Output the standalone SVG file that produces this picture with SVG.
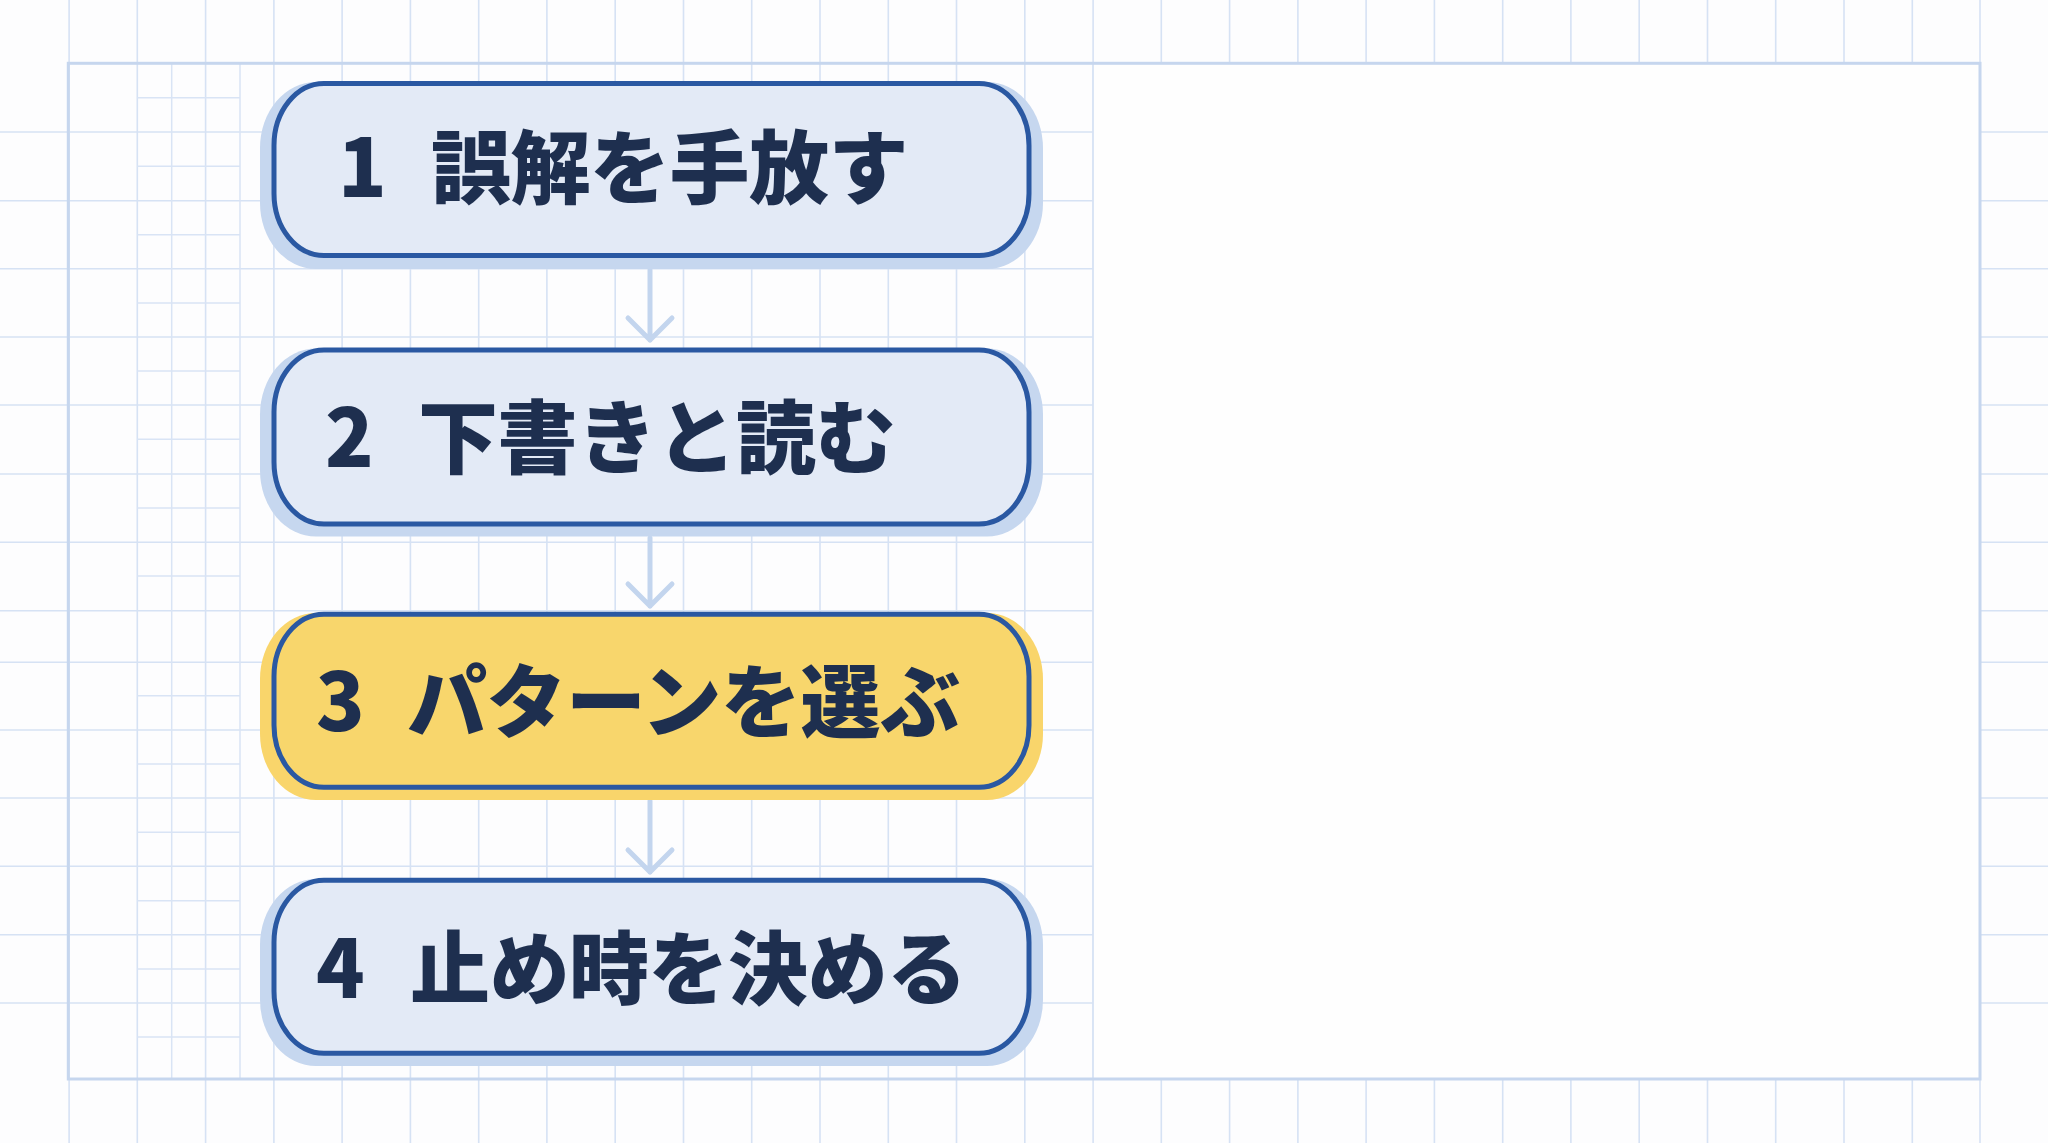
<svg xmlns="http://www.w3.org/2000/svg" width="2048" height="1143" viewBox="0 0 2048 1143">
<defs>
<style>
.g{stroke:#d6e2f4;stroke-width:1.6;fill:none}
.gf{stroke:#d9e4f5;stroke-width:1.5;fill:none}
.frame{stroke:#c6d6ee;stroke-width:3;fill:none}
.shb{fill:#c6d7ef}
.shy{fill:#f9d56b}
.bb{fill:#e3eaf6;stroke:#2a58a2;stroke-width:5}
.by{fill:#f8d66c;stroke:#2a58a2;stroke-width:5}
.t{font-family:"Noto Sans CJK JP","Noto Sans",sans-serif;font-weight:900;font-size:80px;fill:#1e2f4f;letter-spacing:-0.5px}
.arr{stroke:#c3d5ee;stroke-width:5;fill:none;stroke-linecap:round;stroke-linejoin:round}
</style>
</defs>
<rect width="2048" height="1143" fill="#fdfdfe"/>
<g id="grid">
<path class="g" d="M69.1 0V1143M137.3 0V1143M205.6 0V1143M273.9 0V1143M342.1 0V1143M410.4 0V1143M478.7 0V1143M546.9 0V1143M615.2 0V1143M683.5 0V1143M751.7 0V1143M820 0V1143M888.3 0V1143M956.5 0V1143M1024.8 0V1143M1093.1 0V1143M1161.3 0V1143M1229.6 0V1143M1297.9 0V1143M1366.1 0V1143M1434.4 0V1143M1502.7 0V1143M1570.9 0V1143M1639.2 0V1143M1707.5 0V1143M1775.7 0V1143M1844 0V1143M1912.3 0V1143M1980 0V1143"/>
<path class="g" d="M0 132H2048M0 200.7H2048M0 268.7H2048M0 337H2048M0 405H2048M0 474H2048M0 542.3H2048M0 610.7H2048M0 662.3H2048M0 730H2048M0 798H2048M0 866.3H2048M0 934.7H2048M0 1003H2048"/>
<path class="gf" d="M171.7 63V1079M240 63V1079M137.3 97.7H240M137.3 166.3H240M137.3 234.7H240M137.3 303H240M137.3 371H240M137.3 439.3H240M137.3 508H240M137.3 576H240M137.3 695.7H240M137.3 764H240M137.3 832.3H240M137.3 900.7H240M137.3 969H240M137.3 1037H240"/>
<rect x="1093.1" y="63.3" width="886.9" height="1015.7" fill="#fefefe"/>
<path class="g" d="M1093.1 63.3V1079"/>
<rect class="frame" x="68.3" y="63.3" width="1911.7" height="1015.7"/>
</g>
<g id="connectors">
<path class="arr" d="M650 270V340M628 318L650 340L672 318"/>
<path class="arr" d="M650 538V606M628 584L650 606L672 584"/>
<path class="arr" d="M650 801V872M628 850L650 872L672 850"/>
</g>
<g id="node1">
<rect class="shb" x="260" y="82" width="783" height="187" rx="56" ry="66"/>
<rect class="bb" x="274" y="83.5" width="755" height="172" rx="50" ry="62"/>
<text class="t" y="197"><tspan x="338">1</tspan><tspan x="431">誤解を手放す</tspan></text>
</g>
<g id="node2">
<rect class="shb" x="260" y="348.5" width="783" height="188" rx="56" ry="66"/>
<rect class="bb" x="274" y="350" width="755" height="174" rx="50" ry="62"/>
<text class="t" y="467"><tspan x="325">2</tspan><tspan x="418">下書きと読む</tspan></text>
</g>
<g id="node3">
<rect class="shy" x="260" y="613" width="783" height="187" rx="56" ry="66"/>
<rect class="by" x="274" y="614.3" width="755" height="173" rx="50" ry="62"/>
<text class="t" y="731"><tspan x="316">3</tspan><tspan x="407">パターンを選ぶ</tspan></text>
</g>
<g id="node4">
<rect class="shb" x="260" y="879" width="783" height="187" rx="56" ry="66"/>
<rect class="bb" x="274" y="880.3" width="755" height="173" rx="50" ry="62"/>
<text class="t" y="998"><tspan x="316">4</tspan><tspan x="410">止め時を決める</tspan></text>
</g>
</svg>
